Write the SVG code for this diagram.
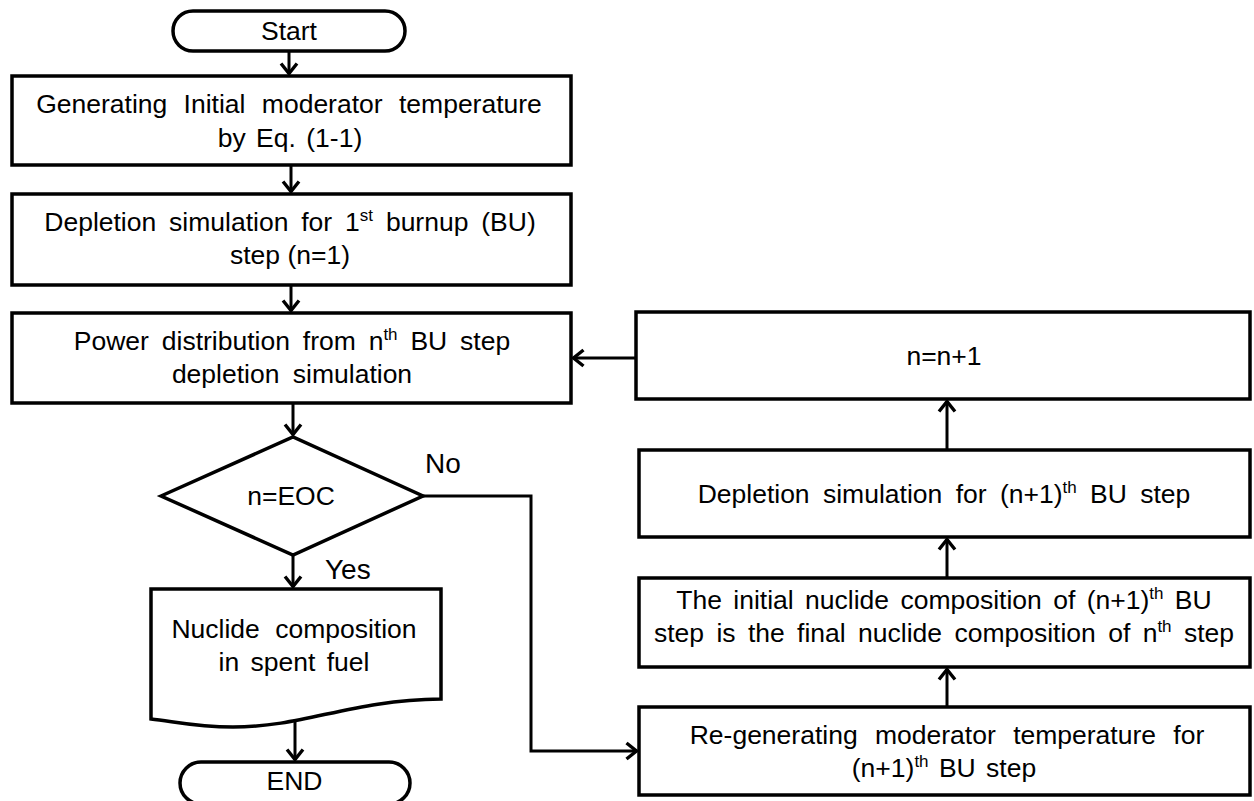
<svg xmlns="http://www.w3.org/2000/svg" width="1254" height="801" viewBox="0 0 1254 801">
<style>
  .box { fill: #fff; stroke: #000; stroke-width: 3.5; }
  .t { font-family: "Liberation Sans", Arial, sans-serif; font-size: 26.5px; fill: #000; text-anchor: middle; }
  .lbl { font-family: "Liberation Sans", Arial, sans-serif; font-size: 28px; fill: #000; }
  .sup { font-size: 17px; }
  .con { fill: none; stroke: #000; stroke-width: 3; marker-end: url(#arr); }
</style>
<defs>
  <marker id="arr" markerUnits="userSpaceOnUse" viewBox="-14 -10 16 20" markerWidth="16" markerHeight="20" refX="0" refY="0" orient="auto" overflow="visible">
    <path d="M -10.5 -8 L -0.5 0 L -10.5 8" fill="none" stroke="#000" stroke-width="3.4" stroke-linejoin="miter"/>
  </marker>
</defs>
<rect width="1254" height="801" fill="#fff"/>

<g id="connectors">
  <path class="con" d="M289 51 V74"/>
  <path class="con" d="M291 165 V192"/>
  <path class="con" d="M291 285 V311"/>
  <path class="con" d="M293 403 V435"/>
  <path class="con" d="M293 555 V587"/>
  <path class="con" d="M295 722 V760"/>
  <path class="con" d="M423 496 H531 V751 H637"/>
  <path class="con" d="M947 707 V669"/>
  <path class="con" d="M947 578 V539"/>
  <path class="con" d="M947 450 V401"/>
  <path class="con" d="M636 358 H573"/>
</g>

<g id="start">
  <rect class="box" x="173" y="11" width="232" height="40" rx="20"/>
  <text class="t" x="289" y="40">Start</text>
</g>

<g id="gen-initial">
  <rect class="box" x="12" y="76" width="559" height="89"/>
  <text class="t" x="289" y="113" style="word-spacing:9px">Generating Initial moderator temperature</text>
  <text class="t" x="290" y="147" style="word-spacing:3px">by Eq. (1-1)</text>
</g>

<g id="depletion-1">
  <rect class="box" x="12" y="194" width="559" height="91"/>
  <text class="t" x="290" y="231" style="word-spacing:5.5px">Depletion simulation for 1<tspan class="sup" dy="-10">st</tspan><tspan dy="10"> burnup (BU)</tspan></text>
  <text class="t" x="290" y="264">step (n=1)</text>
</g>

<g id="power">
  <rect class="box" x="12" y="313" width="559" height="90"/>
  <text class="t" x="292" y="350" style="word-spacing:5.5px">Power distribution from n<tspan class="sup" dy="-10">th</tspan><tspan dy="10"> BU step</tspan></text>
  <text class="t" x="292" y="383" style="word-spacing:6px">depletion simulation</text>
</g>

<g id="decision">
  <polygon class="box" points="161,496 293,437 423,496 293,555"/>
  <text class="t" x="291" y="505">n=EOC</text>
</g>
<text class="lbl" x="425" y="473">No</text>
<text class="lbl" x="325" y="579">Yes</text>

<g id="nuclide">
  <path class="box" d="M151 589 H441 V699 C350 700 305 727 233 727 C195 727 172 721 151 719 Z"/>
  <text class="t" x="294" y="638" style="word-spacing:8px">Nuclide composition</text>
  <text class="t" x="294" y="671" style="word-spacing:4px">in spent fuel</text>
</g>

<g id="end">
  <rect class="box" x="180" y="762" width="230" height="42" rx="21"/>
  <text class="t" x="294.5" y="790">END</text>
</g>

<g id="n-inc">
  <rect class="box" x="636" y="312" width="614" height="87"/>
  <text class="t" x="944" y="365">n=n+1</text>
</g>

<g id="depletion-n1">
  <rect class="box" x="639" y="450" width="611" height="87"/>
  <text class="t" x="944" y="503" style="word-spacing:6px">Depletion simulation for (n+1)<tspan class="sup" dy="-10">th</tspan><tspan dy="10"> BU step</tspan></text>
</g>

<g id="initial-comp">
  <rect class="box" x="639" y="578" width="611" height="89"/>
  <text class="t" x="944" y="609" style="word-spacing:4px">The initial nuclide composition of (n+1)<tspan class="sup" dy="-10">th</tspan><tspan dy="10"> BU</tspan></text>
  <text class="t" x="944" y="642" style="word-spacing:5px">step is the final nuclide composition of n<tspan class="sup" dy="-10">th</tspan><tspan dy="10"> step</tspan></text>
</g>

<g id="regen">
  <rect class="box" x="639" y="707" width="611" height="88"/>
  <text class="t" x="947" y="744" style="word-spacing:10px">Re-generating moderator temperature for</text>
  <text class="t" x="944" y="777" style="word-spacing:3px">(n+1)<tspan class="sup" dy="-10">th</tspan><tspan dy="10"> BU step</tspan></text>
</g>
</svg>
